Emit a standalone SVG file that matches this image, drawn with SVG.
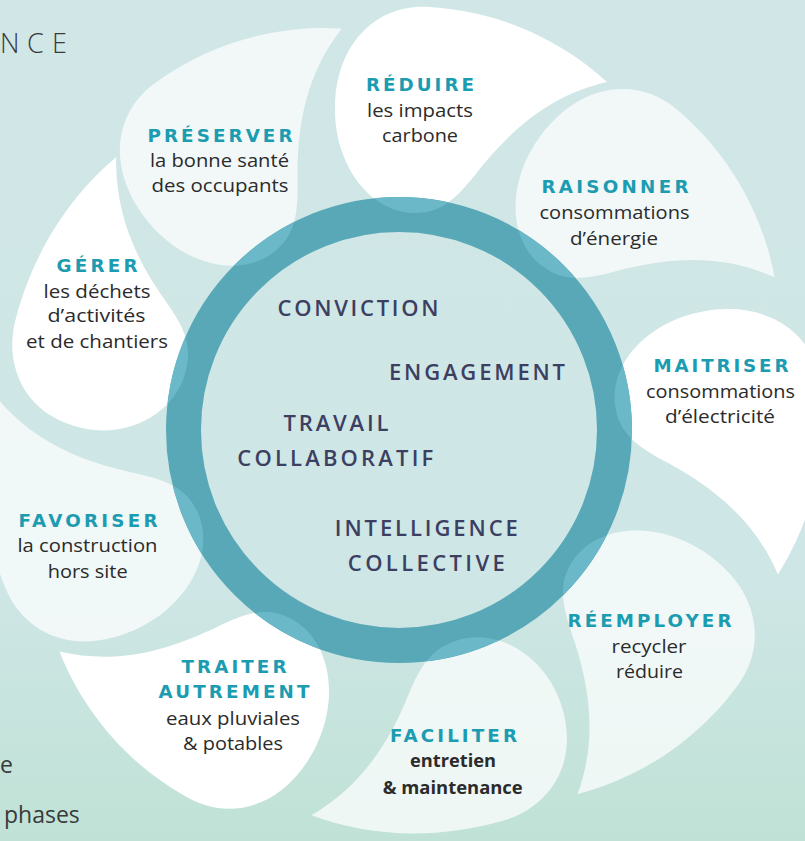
<svg xmlns="http://www.w3.org/2000/svg" xmlns:xlink="http://www.w3.org/1999/xlink" width="805" height="841" viewBox="0 0 805 841">
<style>
.pw{fill:#ffffff}
.pl{fill:#ffffff;fill-opacity:0.72}
.ov{fill:#6bb8c8}
.h{font-family:"DejaVu Sans","Liberation Sans",sans-serif;font-weight:700;font-size:18.3px;fill:#1c9cb1;text-anchor:middle}
.b{font-family:"Open Sans","Liberation Sans",sans-serif;font-weight:500;font-size:18px;fill:#2b2b2b;text-anchor:middle}
.bb{font-weight:700}
.c{font-family:"Open Sans","Liberation Sans",sans-serif;font-weight:600;font-size:22px;fill:#3c3f62;text-anchor:middle}
.side{font-family:"Open Sans","Liberation Sans",sans-serif;fill:#3a3a3a}
</style>
<defs>
<linearGradient id="bg" gradientUnits="userSpaceOnUse" x1="0" y1="0" x2="0" y2="841">
<stop offset="0" stop-color="#d1e7e7"/>
<stop offset="0.7" stop-color="#cee6e5"/>
<stop offset="1" stop-color="#c0e2d6"/>
</linearGradient>
<path id="petal" d="M607,82 C570,48 510,12 430,7 C380,3 335,40 335,110 C335,165 370,213 415,213 C440,213 455,200 475,175 C510,130 550,95 607,82 Z"/>
<clipPath id="ringclip">
<path clip-rule="evenodd" d="M166,430 A233,233 0 1 0 632,430 A233,233 0 1 0 166,430 Z M201,430 A198,198 0 1 0 597,430 A198,198 0 1 0 201,430 Z"/>
</clipPath>
</defs>
<rect width="805" height="841" fill="url(#bg)"/>
<text class="side" font-weight="300" font-size="27" x="0 27 52" y="53">NCE</text>
<text class="side" font-size="23" x="0" y="773">e</text>
<text class="side" font-size="23" x="4" y="823">phases</text>

<g id="connectors"/>

<g id="reduire">
<use xlink:href="#petal" class="pw"/>
<text class="h" x="420" y="91" textLength="108" lengthAdjust="spacing">RÉDUIRE</text>
<text class="b" x="420" y="117" textLength="106" lengthAdjust="spacingAndGlyphs">les impacts</text>
<text class="b" x="420" y="142" textLength="76" lengthAdjust="spacingAndGlyphs">carbone</text>
</g>
<g id="raisonner">
<use xlink:href="#petal" class="pl" transform="rotate(37 399 430)"/>
<text class="h" x="615" y="193" textLength="147" lengthAdjust="spacing">RAISONNER</text>
<text class="b" x="614.5" y="219" textLength="150" lengthAdjust="spacingAndGlyphs">consommations</text>
<text class="b" x="614" y="245" textLength="88" lengthAdjust="spacingAndGlyphs">d’énergie</text>
</g>
<g id="maitriser">
<use xlink:href="#petal" class="pw" transform="rotate(80 399 430)"/>
<text class="h" x="721" y="372" textLength="135" lengthAdjust="spacing">MAITRISER</text>
<text class="b" x="720.5" y="398" textLength="149" lengthAdjust="spacingAndGlyphs">consommations</text>
<text class="b" x="720" y="423" textLength="110" lengthAdjust="spacingAndGlyphs">d’électricité</text>
</g>
<g id="reemployer">
<use xlink:href="#petal" class="pl" transform="rotate(123 399 430)"/>
<text class="h" x="649.5" y="627" textLength="164" lengthAdjust="spacing">RÉEMPLOYER</text>
<text class="b" x="649" y="653" textLength="75" lengthAdjust="spacingAndGlyphs">recycler</text>
<text class="b" x="649.5" y="678" textLength="67" lengthAdjust="spacingAndGlyphs">réduire</text>
</g>
<g id="faciliter">
<use xlink:href="#petal" class="pl" transform="rotate(161 399 430) translate(410 124) scale(1 0.9) translate(-410 -115)"/>
<text class="h" x="453.5" y="742" textLength="127" lengthAdjust="spacing">FACILITER</text>
<text class="b bb" x="453" y="767" textLength="86" lengthAdjust="spacingAndGlyphs">entretien</text>
<text class="b bb" x="452.7" y="794" textLength="140" lengthAdjust="spacingAndGlyphs">&amp; maintenance</text>
</g>
<g id="traiter">
<use xlink:href="#petal" class="pw" transform="rotate(206 399 430)"/>
<text class="h" x="234" y="673" textLength="105" lengthAdjust="spacing">TRAITER</text>
<text class="h" x="234" y="698" textLength="151" lengthAdjust="spacing">AUTREMENT</text>
<text class="b" x="233" y="725" textLength="134" lengthAdjust="spacingAndGlyphs">eaux pluviales</text>
<text class="b" x="233" y="750" textLength="100" lengthAdjust="spacingAndGlyphs">&amp; potables</text>
</g>
<g id="favoriser">
<use xlink:href="#petal" class="pl" transform="rotate(244 399 430)"/>
<text class="h" x="88" y="527" textLength="139" lengthAdjust="spacing">FAVORISER</text>
<text class="b" x="87.5" y="552" textLength="140" lengthAdjust="spacingAndGlyphs">la construction</text>
<text class="b" x="87.7" y="578" textLength="80" lengthAdjust="spacingAndGlyphs">hors site</text>
</g>
<g id="gerer">
<use xlink:href="#petal" class="pw" transform="rotate(282 399 430) translate(410 125) scale(1 0.86) translate(-410 -115)"/>
<text class="h" x="97" y="272" textLength="81" lengthAdjust="spacing">GÉRER</text>
<text class="b" x="97" y="298" textLength="107" lengthAdjust="spacingAndGlyphs">les déchets</text>
<text class="b" x="96.5" y="322" textLength="98" lengthAdjust="spacingAndGlyphs">d’activités</text>
<text class="b" x="97" y="347.5" textLength="142" lengthAdjust="spacingAndGlyphs">et de chantiers</text>
</g>
<g id="preserver">
<use xlink:href="#petal" class="pl" transform="rotate(321 399 430)"/>
<text class="h" x="220" y="142" textLength="145" lengthAdjust="spacing">PRÉSERVER</text>
<text class="b" x="219.5" y="167" textLength="139" lengthAdjust="spacingAndGlyphs">la bonne santé</text>
<text class="b" x="220" y="191.5" textLength="137" lengthAdjust="spacingAndGlyphs">des occupants</text>
</g>

<g id="centre">
<circle cx="399" cy="430" r="198" fill="url(#bg)"/>
<circle cx="399" cy="430" r="215.5" fill="none" stroke="#58a8b7" stroke-width="35"/>
<g clip-path="url(#ringclip)">
<use xlink:href="#petal" class="ov"/>
<use xlink:href="#petal" class="ov" transform="rotate(37 399 430)"/>
<use xlink:href="#petal" class="ov" transform="rotate(80 399 430)"/>
<use xlink:href="#petal" class="ov" transform="rotate(123 399 430)"/>
<use xlink:href="#petal" class="ov" transform="rotate(161 399 430) translate(410 124) scale(1 0.9) translate(-410 -115)"/>
<use xlink:href="#petal" class="ov" transform="rotate(206 399 430)"/>
<use xlink:href="#petal" class="ov" transform="rotate(244 399 430)"/>
<use xlink:href="#petal" class="ov" transform="rotate(282 399 430) translate(410 125) scale(1 0.86) translate(-410 -115)"/>
<use xlink:href="#petal" class="ov" transform="rotate(321 399 430)"/>
</g>
<text class="c" x="358" y="316" textLength="161" lengthAdjust="spacing">CONVICTION</text>
<text class="c" x="477" y="380" textLength="176" lengthAdjust="spacing">ENGAGEMENT</text>
<text class="c" x="336" y="430.7" textLength="105" lengthAdjust="spacing">TRAVAIL</text>
<text class="c" x="335.3" y="466" textLength="196" lengthAdjust="spacing">COLLABORATIF</text>
<text class="c" x="426.3" y="536" textLength="183" lengthAdjust="spacing">INTELLIGENCE</text>
<text class="c" x="426.3" y="570.7" textLength="157" lengthAdjust="spacing">COLLECTIVE</text>
</g>
</svg>
